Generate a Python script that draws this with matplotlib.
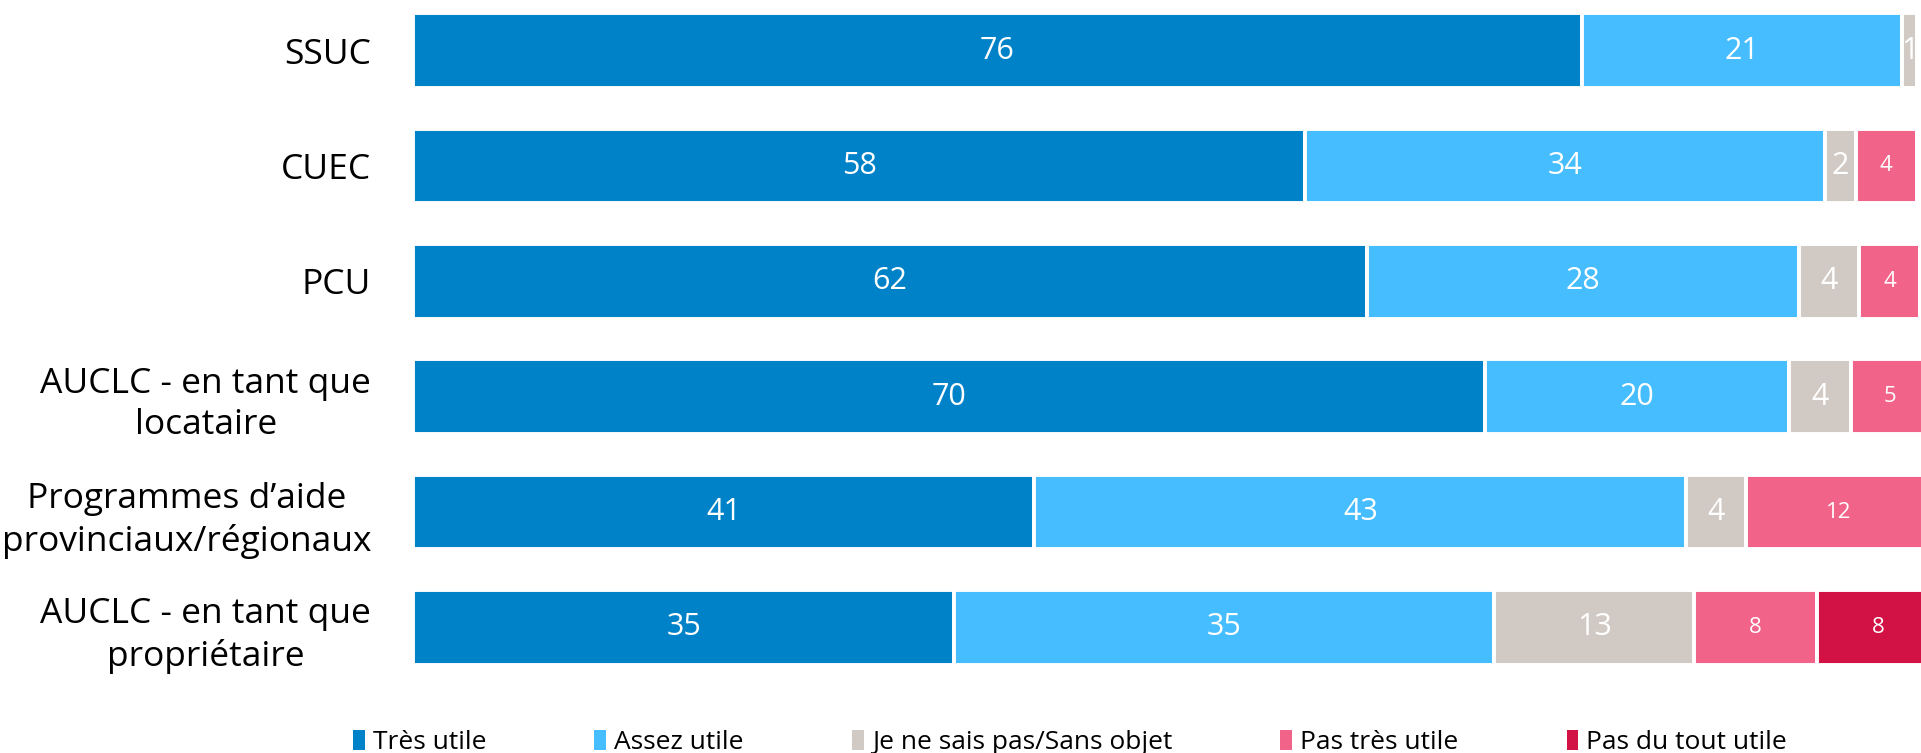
import matplotlib.pyplot as plt
import numpy as np

plt.rcParams['font.family'] = ['Open Sans', 'DejaVu Sans']

categories = ['SSUC', 'CUEC', 'PCU', 'AUCLC - en tant que\nlocataire',
              'Programmes d\u2019aide\nprovinciaux/r\u00e9gionaux',
              'AUCLC - en tant que\npropri\u00e9taire']
# bar lengths (unrounded)
tres_utile = [76.0, 58.0, 62.0, 69.7, 40.4, 35.2]
assez_utile = [20.8, 33.8, 28.1, 19.8, 42.4, 35.1]
ne_sais_pas = [1.0, 2.0, 3.9, 4.0, 3.9, 13.0]
pas_tres_utile = [0, 4.0, 4.0, 5.0, 12.0, 8.0]
pas_du_tout = [0, 0, 0, 0, 0, 8.0]
# printed labels
lab_tres = ['76', '58', '62', '70', '41', '35']
lab_assez = ['21', '34', '28', '20', '43', '35']
lab_nsp = ['1', '2', '4', '4', '4', '13']
lab_pas_tres = ['', '4', '4', '5', '12', '8']
lab_pas_du_tout = ['', '', '', '', '', '8']

series = [('Tr\u00e8s utile', tres_utile, lab_tres, '#0082C8', 22),
          ('Assez utile', assez_utile, lab_assez, '#45BDFF', 22),
          ('Je ne sais pas/Sans objet', ne_sais_pas, lab_nsp, '#D1C9C3', 22),
          ('Pas tr\u00e8s utile', pas_tres_utile, lab_pas_tres, '#F2638A', 16),
          ('Pas du tout utile', pas_du_tout, lab_pas_du_tout, '#D21245', 16)]

fig = plt.figure(figsize=(19.21, 7.53), dpi=100)
ax = fig.add_axes([0.215, 0.0903, 0.8006, 0.919])

y = np.arange(len(categories))
left = np.zeros(len(categories))
for name, vals, labels, col, fs in series:
    vals = np.array(vals, dtype=float)
    bars = ax.barh(y, vals, left=left, height=0.65, color=col,
                   edgecolor='white', linewidth=2.8, label=name)
    ax.bar_label(bars, labels=labels, label_type='center', color='white',
                 fontsize=fs)
    left += vals

ax.set_xlim(0, 100)
ax.set_ylim(5.5, -0.5)
ax.set_yticks(y)
ax.set_yticklabels(categories, fontsize=25.5, multialignment='center',
                   linespacing=1.3)
ax.tick_params(axis='y', length=0, pad=30)
ax.set_xticks([])
for s in ax.spines.values():
    s.set_visible(False)

leg = fig.legend(loc='center', bbox_to_anchor=(0.557, 0.014), ncol=5,
                 frameon=False, fontsize=19, handlelength=0.45,
                 handleheight=0.8, handletextpad=0.3, columnspacing=4.1)
for h in leg.legend_handles:
    h.set_linewidth(0)

fig.savefig('out.png', dpi=100, facecolor='w')
